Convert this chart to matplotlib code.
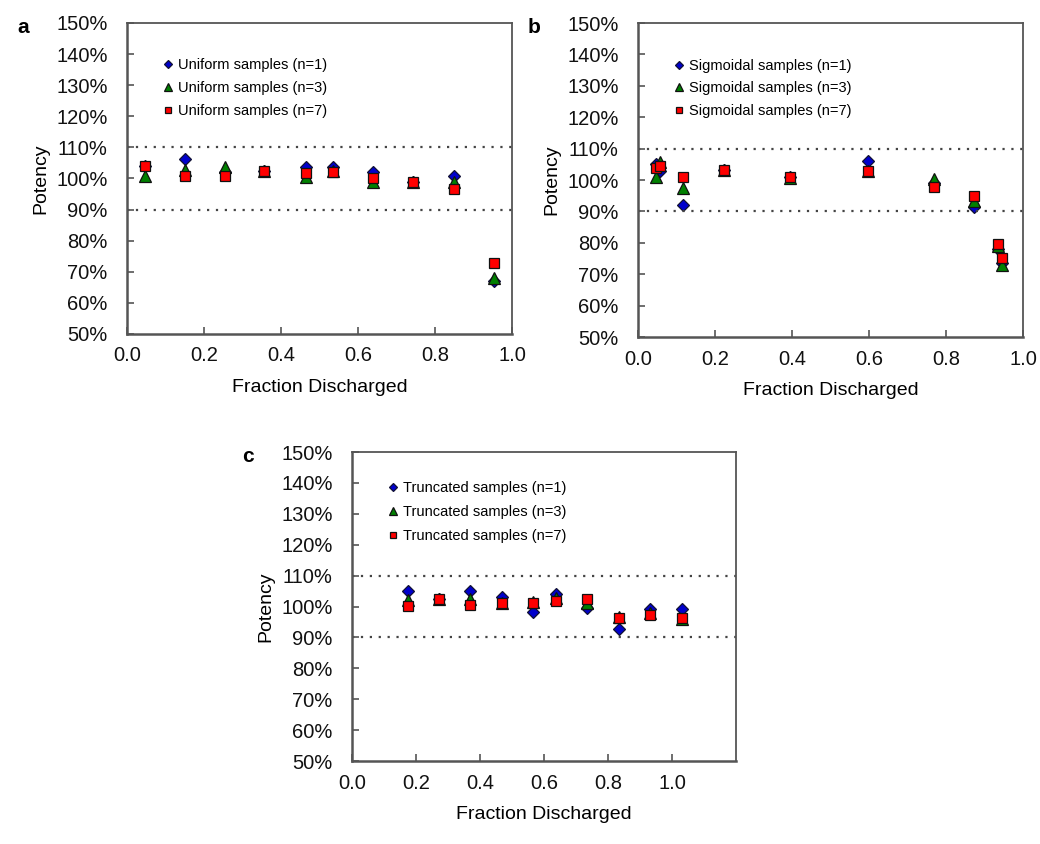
import numpy as np
import matplotlib.pyplot as plt
from matplotlib.ticker import FuncFormatter

plt.rcParams['font.family'] = ['Liberation Sans', 'DejaVu Sans']

# ── dane ────────────────────────────────────────────────────────────────────
# (a) Uniform
a_x = [0.047, 0.151, 0.255, 0.356, 0.465, 0.535, 0.639, 0.743, 0.849, 0.953]
a_n1 = [104.0, 106.3, 102.0, 102.5, 103.6, 103.6, 102.2, 99.0, 100.9, 67.0]
a_n3 = [100.9, 102.8, 103.6, 102.5, 100.4, 102.5, 98.8, 99.0, 98.8, 68.1]
a_n7 = [103.9, 100.7, 100.7, 102.5, 101.7, 102.2, 100.2, 99.0, 96.6, 72.7]

# (b) Sigmoidal
b_x = [0.047, 0.057, 0.116, 0.223, 0.395, 0.598, 0.769, 0.873, 0.934, 0.946]
b_n1 = [105.0, 103.0, 92.2, 103.2, 101.0, 106.1, 99.0, 91.3, 78.1, 73.5]
b_n3 = [101.1, 105.6, 97.6, 103.2, 100.8, 103.0, 100.4, 93.3, 79.0, 73.0]
b_n7 = [103.8, 104.5, 101.1, 103.2, 101.1, 102.9, 97.9, 94.9, 79.7, 75.2]

# (c) Truncated
c_x = [0.175, 0.272, 0.369, 0.469, 0.566, 0.638, 0.734, 0.834, 0.931, 1.031]
c_n1 = [104.9, 102.4, 104.9, 103.2, 98.2, 104.2, 99.6, 92.8, 99.3, 99.3]
c_n3 = [102.2, 102.4, 102.5, 101.3, 101.5, 102.8, 101.0, 96.5, 97.8, 96.0]
c_n7 = [100.1, 102.4, 100.5, 101.0, 101.0, 101.8, 102.4, 96.2, 97.4, 96.4]

x_ticks = [0.0, 0.2, 0.4, 0.6, 0.8, 1.0]
y_ticks = [50, 60, 70, 80, 90, 100, 110, 120, 130, 140, 150]
limits = [90, 110]

SPINE = '#555555'


def draw_panel(ax, letter, name, xs, n1, n3, n7, xmax, leg_y, leg_sp):
    ax.plot(xs, n1, ls='none', marker='D', ms=6.5, mfc='#0000CC', mec='#111133',
            mew=0.9, label=f'{name} samples (n=1)')
    ax.plot(xs, n3, ls='none', marker='^', ms=8, mfc='#008000', mec='#111111',
            mew=0.9, label=f'{name} samples (n=3)')
    ax.plot(xs, n7, ls='none', marker='s', ms=7, mfc='#FF0000', mec='#111111',
            mew=0.9, label=f'{name} samples (n=7)')
    for y in limits:
        ax.axhline(y, color='#444444', ls=(0, (1, 3)), lw=1.6)
    ax.set_xlim(0, xmax)
    ax.set_ylim(50, 150)
    ax.set_xticks(x_ticks)
    ax.set_yticks(y_ticks)
    ax.xaxis.set_major_formatter(FuncFormatter(lambda v, p: f'{v:.1f}'))
    ax.yaxis.set_major_formatter(FuncFormatter(lambda v, p: f'{v:.0f}%'))
    ax.tick_params(direction='in', length=5, width=1.2, color=SPINE,
                   labelsize=14.5, labelcolor='#111111')
    ax.tick_params(axis='y', pad=14)
    ax.tick_params(axis='x', pad=9)
    for s in ax.spines.values():
        s.set_color(SPINE)
        s.set_linewidth(1.3)
    ax.spines['left'].set_linewidth(1.8)
    ax.spines['bottom'].set_linewidth(1.8)
    ax.set_xlabel('Fraction Discharged', fontsize=14, labelpad=10)
    ax.set_ylabel('Potency', fontsize=14, labelpad=5)
    ax.legend(loc='upper left', bbox_to_anchor=(0.075, leg_y), frameon=False,
              fontsize=10.5, handletextpad=0.3, labelspacing=leg_sp,
              markerscale=0.7, handlelength=0.8, borderaxespad=0)
    ax.text(-0.27, 0.985, letter, transform=ax.transAxes, fontsize=15,
            fontweight='bold', ha='center', va='center')


fig = plt.figure(figsize=(10.4, 8.44), dpi=100)
ax_a = fig.add_axes([0.1221, 0.6043, 0.3702, 0.3685])
ax_b = fig.add_axes([0.6135, 0.6007, 0.3702, 0.3720])
ax_c = fig.add_axes([0.3385, 0.0983, 0.3692, 0.3661])

draw_panel(ax_a, 'a', 'Uniform', a_x, a_n1, a_n3, a_n7, 1.0, 0.905, 0.6)
draw_panel(ax_b, 'b', 'Sigmoidal', b_x, b_n1, b_n3, b_n7, 1.0, 0.905, 0.6)
draw_panel(ax_c, 'c', 'Truncated', c_x, c_n1, c_n3, c_n7, 1.2, 0.925, 0.7)

plt.savefig('out.png', dpi=100)
